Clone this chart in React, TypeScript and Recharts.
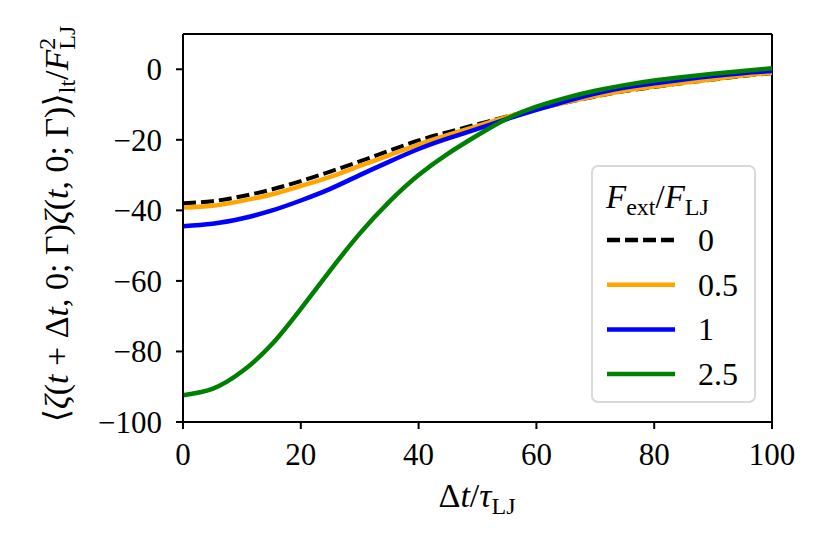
import React from 'react';
import {
  LineChart,
  Line,
  XAxis,
  YAxis,
  Legend,
  ReferenceLine
} from 'recharts';

const FONT = '"Liberation Serif", "DejaVu Serif", serif';

// lag time Δt/τ_LJ
const LAGS = [0, 5, 10, 15, 20, 25, 30, 35, 40, 45, 50, 55, 60, 65, 70, 75, 80, 85, 90, 95, 100];

// correlation / F_LJ^2 for each external force
const F_0 = [-38.0, -37.4, -36.0, -34.1, -31.7, -29.0, -26.1, -23.1, -20.2, -17.8, -15.6, -13.4, -11.3, -9.4, -7.7, -6.2, -5.0, -3.9, -2.9, -1.9, -1.1];
const F_05 = [-39.2, -38.7, -37.3, -35.5, -33.1, -30.5, -27.4, -24.4, -21.3, -18.6, -16.1, -13.5, -11.3, -9.4, -7.6, -6.1, -4.9, -3.8, -2.8, -1.8, -1.0];
const F_1 = [-44.5, -43.8, -42.3, -40.1, -37.2, -33.9, -30.0, -26.2, -22.6, -19.6, -16.9, -14.1, -11.5, -9.1, -6.9, -5.2, -4.0, -2.9, -1.9, -1.1, -0.5];
const F_25 = [-92.4, -90.6, -85.7, -78.1, -67.9, -57.0, -46.6, -37.6, -30.0, -23.9, -18.7, -14.0, -10.6, -8.1, -6.1, -4.5, -3.2, -2.2, -1.3, -0.5, 0.3];

const X_TICKS = [0, 20, 40, 60, 80, 100];
const Y_TICKS = [-100, -80, -60, -40, -20, 0];

const SERIES = [
  { key: 'f0', name: '0', color: '#000000', dash: '13 5', width: 4 },
  { key: 'f05', name: '0.5', color: '#ffa500', dash: undefined, width: 4.5 },
  { key: 'f1', name: '1', color: '#0000ff', dash: undefined, width: 4.5 },
  { key: 'f25', name: '2.5', color: '#008000', dash: undefined, width: 4.5 }
];

const chartData = LAGS.map((t, i) => ({
  t,
  f0: F_0[i],
  f05: F_05[i],
  f1: F_1[i],
  f25: F_25[i]
}));

const fmt = (v: number) => (v < 0 ? '\u2212' + Math.abs(v) : String(v));

function LegendBox({ payload }: any) {
  const rows = (payload || []).map((p: any, i: number) => {
    const s = SERIES.find(x => x.name === p.value) || SERIES[i];
    return { name: p.value, color: p.color || s.color, dash: s.dash };
  });
  return (
    <div
      style={{
        width: 165,
        height: 238,
        boxSizing: 'border-box',
        border: '2px solid #d9d9d9',
        borderRadius: 7,
        background: 'rgba(255,255,255,0.85)',
        fontFamily: FONT
      }}
    >
      <svg width={161} height={234} style={{ display: 'block' }}>
        <text x={13} y={41} fontSize={33} fill="#000">
          <tspan fontStyle="italic">F</tspan>
          <tspan fontSize={24} dy={7}>ext</tspan>
          <tspan dy={-7}>/</tspan>
          <tspan fontStyle="italic">F</tspan>
          <tspan fontSize={24} dy={7}>LJ</tspan>
        </text>
        {rows.map((r: any, i: number) => {
          const y = 73 + i * 44.7;
          return (
            <g key={r.name}>
              <line
                x1={14}
                x2={82}
                y1={y}
                y2={y}
                stroke={r.color}
                strokeWidth={4.5}
                strokeDasharray={r.dash}
              />
              <text x={105} y={y + 11} fontSize={32} fill="#000">
                {r.name}
              </text>
            </g>
          );
        })}
      </svg>
    </div>
  );
}

export default function App() {
  return (
    <div style={{ position: 'absolute', left: 0, top: 0, width: 831, height: 554, background: '#fff', fontFamily: FONT }}>
      <LineChart
        width={831}
        height={554}
        data={chartData}
        margin={{ top: 34, right: 59, bottom: 0, left: 0 }}
      >
        <XAxis
          dataKey="t"
          type="number"
          domain={[0, 100]}
          ticks={X_TICKS}
          height={132}
          stroke="#000"
          strokeWidth={2}
          tickSize={7}
          tickMargin={14}
          tick={{ fill: '#000', fontSize: 31, fontFamily: FONT }}
          tickFormatter={fmt}
        />
        <YAxis
          type="number"
          domain={[-100, 10]}
          ticks={Y_TICKS}
          width={183}
          stroke="#000"
          strokeWidth={2}
          tickSize={7}
          tickMargin={14}
          tick={{ fill: '#000', fontSize: 31, fontFamily: FONT }}
          tickFormatter={fmt}
        />
        <ReferenceLine y={10} stroke="#000" strokeWidth={2} />
        <ReferenceLine x={100} stroke="#000" strokeWidth={2} />
        {SERIES.map(s => (
          <Line
            key={s.key}
            dataKey={s.key}
            name={s.name}
            type="natural"
            stroke={s.color}
            strokeWidth={s.width}
            strokeDasharray={s.dash}
            dot={false}
            isAnimationActive={false}
          />
        ))}
        <Legend
          layout="vertical"
          align="center"
          verticalAlign="middle"
          content={<LegendBox />}
          wrapperStyle={{ left: 591, top: 165, width: 165, height: 238 }}
        />
      </LineChart>
      <svg
        width={831}
        height={554}
        style={{ position: 'absolute', left: 0, top: 0, pointerEvents: 'none' }}
      >
        <text x={477} y={507} fontSize={34} textAnchor="middle" fill="#000" fontFamily={FONT}>
          <tspan>Δ</tspan>
          <tspan fontStyle="italic">t</tspan>
          <tspan>/</tspan>
          <tspan fontStyle="italic">τ</tspan>
          <tspan fontSize={24} dy={7}>LJ</tspan>
        </text>
        <text
          transform="rotate(-90)"
          x={-224}
          y={68}
          fontSize={34}
          textAnchor="middle"
          fill="#000"
          fontFamily={FONT}
        >
          <tspan>⟨</tspan>
          <tspan fontStyle="italic">ζ</tspan>
          <tspan>(</tspan>
          <tspan fontStyle="italic">t</tspan>
          <tspan> + Δ</tspan>
          <tspan fontStyle="italic">t</tspan>
          <tspan>, 0; Γ)</tspan>
          <tspan fontStyle="italic">ζ</tspan>
          <tspan>(</tspan>
          <tspan fontStyle="italic">t</tspan>
          <tspan>, 0; Γ)⟩</tspan>
          <tspan fontSize={24} dy={7}>lt</tspan>
          <tspan dy={-7}>/</tspan>
          <tspan fontStyle="italic">F</tspan>
          <tspan fontSize={24} dy={-13}>2</tspan>
          <tspan fontSize={24} dx={-12} dy={20}>LJ</tspan>
        </text>
      </svg>
    </div>
  );
}
